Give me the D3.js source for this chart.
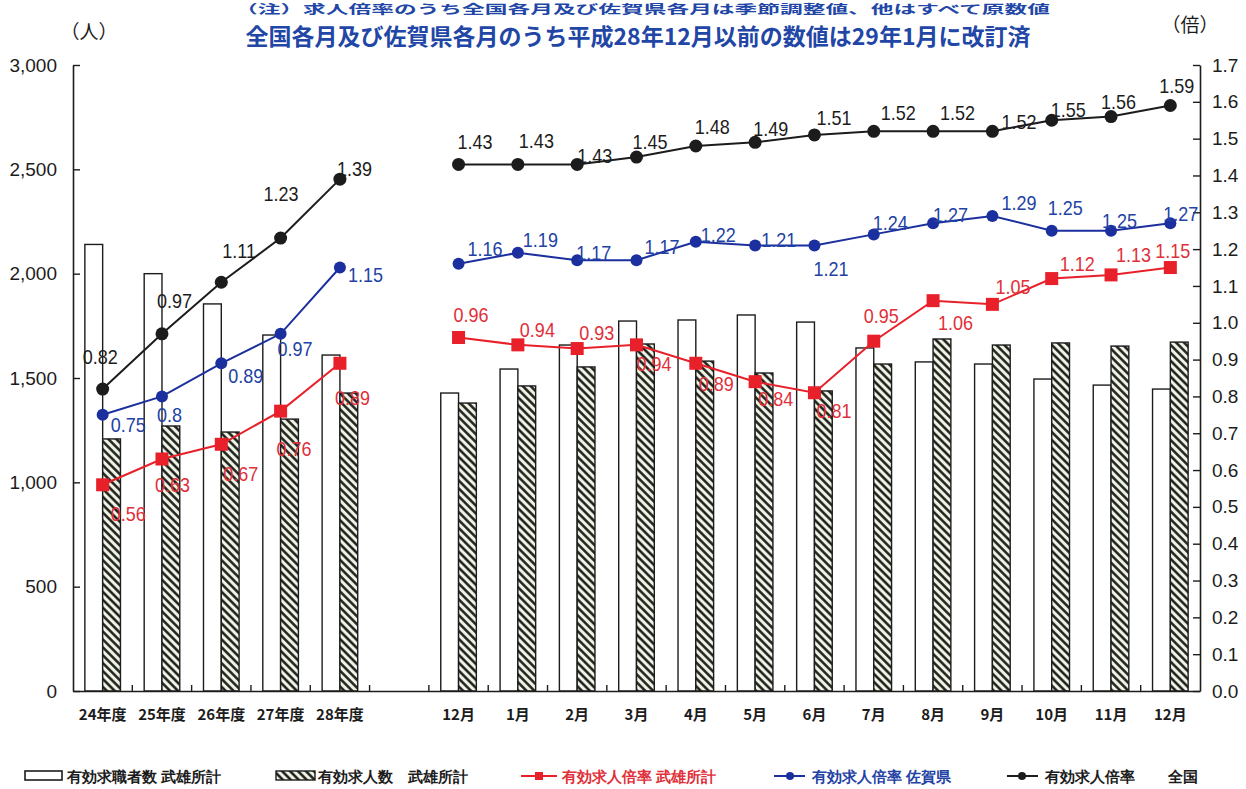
<!DOCTYPE html>
<html lang="ja">
<head>
<meta charset="utf-8">
<script src="https://cdn.jsdelivr.net/npm/d3@7"></script>
<style>
  html, body { margin: 0; padding: 0; background: #ffffff; }
  svg { display: block; }
  text { font-family: "Liberation Sans", Arial, sans-serif; }
  .jp { font-family: "Noto Sans CJK JP", "Noto Sans", sans-serif; }
</style>
</head>
<body>
<div id="chart"></div>
<script>
// ---- data ----
const yearLabels  = ["24年度", "25年度", "26年度", "27年度", "28年度"];
const monthLabels = ["12月", "1月", "2月", "3月", "4月", "5月", "6月", "7月", "8月", "9月", "10月", "11月", "12月"];

// 有効求職者数 武雄所計 (人)
const seekersYear  = [2140, 2000, 1855, 1706, 1610];
const seekersMonth = [1428, 1543, 1658, 1773, 1778, 1802, 1768, 1644, 1577, 1567, 1495, 1466, 1447];

// 有効求人数 武雄所計 (人)
const offersYear  = [1208, 1270, 1241, 1303, 1428];
const offersMonth = [1380, 1462, 1553, 1663, 1581, 1524, 1438, 1567, 1687, 1658, 1668, 1653, 1672];

// 有効求人倍率 (倍)
const takeoRatioYear  = [0.56, 0.63, 0.67, 0.76, 0.89];
const takeoRatioMonth = [0.96, 0.94, 0.93, 0.94, 0.89, 0.84, 0.81, 0.95, 1.06, 1.05, 1.12, 1.13, 1.15];
const sagaRatioYear   = [0.75, 0.8, 0.89, 0.97, 1.15];
const sagaRatioMonth  = [1.16, 1.19, 1.17, 1.17, 1.22, 1.21, 1.21, 1.24, 1.27, 1.29, 1.25, 1.25, 1.27];
const japanRatioYear  = [0.82, 0.97, 1.11, 1.23, 1.39];
const japanRatioMonth = [1.43, 1.43, 1.43, 1.45, 1.48, 1.49, 1.51, 1.52, 1.52, 1.52, 1.55, 1.56, 1.59];

const leftTicks  = [0, 500, 1000, 1500, 2000, 2500, 3000];
const rightTicks = d3.range(0, 18).map(i => i / 10);

// ---- layout ----
const W = 1246, H = 789;
const plot = { left: 73, right: 1200, top: 65, bottom: 691 };

// value-label nudges [dx, dy] from each marker (label baseline-left)
const japanNudgeYear  = [[-20,-25],[-5,-26],[1,-24],[-17,-37],[-3,-3]];
const japanNudgeMonth = [[-1,-15],[1,-16],[0,-1],[-4,-8],[-1,-12],[-2,-6],[2,-10],[7,-11],[7,-11],[9,-2],[-1,-3],[-10,-8],[-11,-13]];
const sagaNudgeYear   = [[8,17],[-5,26],[7,20],[-3,22],[8,14]];
const sagaNudgeMonth  = [[9,-8],[5,-6],[-1,0],[8,-6],[5,0],[6,2],[-1,31],[-1,-4],[0,-1],[9,-6],[-4,-16],[-9,-3],[-7,-2]];
const takeoNudgeYear  = [[8,36],[-7,33],[2,37],[-4,45],[-5,42]];
const takeoNudgeMonth = [[-5,-15],[2,-8],[2,-9],[0,26],[3,28],[3,24],[2,25],[-10,-18],[5,29],[3,-10],[8,-8],[5,-13],[-15,-10]];

const RED = "#e8202a", BLUE = "#1b2f9e", BLACK = "#1c1c1c";
const RED_TXT = "#e0303a", BLUE_TXT = "#2242a4";

// category keys: years, one empty spacer slot, months
const yearKeys  = yearLabels.map((_, i) => "y" + i);
const monthKeys = monthLabels.map((_, i) => "m" + i);
const keys = [...yearKeys, "gap", ...monthKeys];
const labelOf = new Map([...yearKeys.map((k, i) => [k, yearLabels[i]]), ["gap", ""], ...monthKeys.map((k, i) => [k, monthLabels[i]])]);

const x = d3.scaleBand().domain(keys).range([plot.left, plot.right]).paddingInner(0).paddingOuter(0);
const bw = x.bandwidth();
const yL = d3.scaleLinear().domain([0, 3000]).range([plot.bottom, plot.top]);
const yR = d3.scaleLinear().domain([0, 1.7]).range([plot.bottom, plot.top]);
const cx = k => x(k) + bw / 2;

const svg = d3.select("#chart").append("svg").attr("width", W).attr("height", H);

// hatch pattern for 有効求人数
const defs = svg.append("defs");
const pat = defs.append("pattern")
  .attr("id", "hatch").attr("patternUnits", "userSpaceOnUse")
  .attr("width", 5.6).attr("height", 5.6)
  .attr("patternTransform", "rotate(-45)");
pat.append("rect").attr("width", 5.6).attr("height", 5.6).attr("fill", "#eef4e3");
pat.append("line").attr("x1", 1.4).attr("y1", 0).attr("x2", 1.4).attr("y2", 5.6)
  .attr("stroke", "#151515").attr("stroke-width", 2.4);

// ---- header ----
svg.append("text").attr("class", "jp").attr("x", 235).attr("y", 14)
  .attr("font-size", 12).attr("font-weight", 700)
  .attr("textLength", 815).attr("lengthAdjust", "spacingAndGlyphs")
  .attr("fill", "#2146a6")
  .text("（注）求人倍率のうち全国各月及び佐賀県各月は季節調整値、他はすべて原数値");
svg.append("text").attr("class", "jp").attr("x", 638).attr("y", 45)
  .attr("text-anchor", "middle").attr("font-size", 23).attr("font-weight", 700)
  .attr("fill", "#2146a6")
  .text("全国各月及び佐賀県各月のうち平成28年12月以前の数値は29年1月に改訂済");
svg.append("text").attr("class", "jp").attr("x", 89).attr("y", 39)
  .attr("text-anchor", "middle").attr("font-size", 19).attr("fill", BLACK).text("（人）");
svg.append("text").attr("class", "jp").attr("x", 1190).attr("y", 32)
  .attr("text-anchor", "middle").attr("font-size", 19).attr("fill", BLACK).text("（倍）");

// ---- bars ----
const barRows = [
  ...yearKeys.map((k, i) => ({ k, seek: seekersYear[i], offer: offersYear[i] })),
  ...monthKeys.map((k, i) => ({ k, seek: seekersMonth[i], offer: offersMonth[i] }))
];
const bars = svg.append("g");
bars.selectAll("rect.seek").data(barRows).join("rect").attr("class", "seek")
  .attr("x", d => x(d.k) + bw * 0.2).attr("width", bw * 0.3)
  .attr("y", d => yL(d.seek)).attr("height", d => yL(0) - yL(d.seek))
  .attr("fill", "#ffffff").attr("stroke", BLACK).attr("stroke-width", 1.4);
bars.selectAll("rect.offer").data(barRows).join("rect").attr("class", "offer")
  .attr("x", d => x(d.k) + bw * 0.5).attr("width", bw * 0.3)
  .attr("y", d => yL(d.offer)).attr("height", d => yL(0) - yL(d.offer))
  .attr("fill", "url(#hatch)").attr("stroke", BLACK).attr("stroke-width", 1.4);

// ---- axes ----
const axL = svg.append("g").attr("transform", `translate(${plot.left},0)`)
  .call(d3.axisLeft(yL).tickValues(leftTicks).tickFormat(d3.format(",")).tickSize(-7).tickSizeOuter(0).tickPadding(16));
const axR = svg.append("g").attr("transform", `translate(${plot.right},0)`)
  .call(d3.axisRight(yR).tickValues(rightTicks).tickFormat(d3.format(".1f")).tickSize(-7).tickSizeOuter(0).tickPadding(12));
const axB = svg.append("g").attr("transform", `translate(0,${plot.bottom})`)
  .call(d3.axisBottom(x).tickFormat(k => labelOf.get(k)).tickSize(0).tickSizeOuter(0).tickPadding(18));
[axL, axR, axB].forEach(g => {
  g.select(".domain").attr("stroke", BLACK).attr("stroke-width", 1.6);
  g.selectAll(".tick line").attr("stroke", BLACK).attr("stroke-width", 1.4);
});
[axL, axR].forEach(g => g.selectAll(".tick text")
  .attr("font-family", "'Liberation Sans', Arial, sans-serif").attr("font-size", 19).attr("fill", BLACK));
axB.selectAll(".tick text").attr("class", "jp").attr("font-size", 15).attr("font-weight", 700)
  .attr("fill", BLACK);
// category boundary ticks on the x axis
const bounds = keys.map(k => x(k)).concat([plot.right]).slice(1, -1);
svg.append("g").selectAll("line").data(bounds).join("line")
  .attr("x1", d => d).attr("x2", d => d)
  .attr("y1", plot.bottom).attr("y2", plot.bottom - 6)
  .attr("stroke", BLACK).attr("stroke-width", 1.4);

// ---- ratio lines ----
const lineGen = d3.line().x(d => cx(d.k)).y(d => yR(d.v));
const series = [
  { yv: takeoRatioYear, mv: takeoRatioMonth, ny: takeoNudgeYear, nm: takeoNudgeMonth, color: RED, txt: RED_TXT, marker: "square" },
  { yv: sagaRatioYear,  mv: sagaRatioMonth,  ny: sagaNudgeYear,  nm: sagaNudgeMonth,  color: BLUE, txt: BLUE_TXT, marker: "circle", r: 6 },
  { yv: japanRatioYear, mv: japanRatioMonth, ny: japanNudgeYear, nm: japanNudgeMonth, color: BLACK, txt: BLACK, marker: "circle", r: 6.5 }
];

series.forEach(s => {
  const segY = yearKeys.map((k, i) => ({ k, v: s.yv[i], n: s.ny[i] }));
  const segM = monthKeys.map((k, i) => ({ k, v: s.mv[i], n: s.nm[i] }));
  const g = svg.append("g");
  [segY, segM].forEach(seg => {
    g.append("path").datum(seg).attr("d", lineGen)
      .attr("fill", "none").attr("stroke", s.color).attr("stroke-width", 2);
  });
  const pts = segY.concat(segM);
  if (s.marker === "square") {
    g.selectAll("rect").data(pts).join("rect")
      .attr("x", d => cx(d.k) - 6.5).attr("y", d => yR(d.v) - 6.5)
      .attr("width", 13).attr("height", 13).attr("fill", s.color);
  } else {
    g.selectAll("circle").data(pts).join("circle")
      .attr("cx", d => cx(d.k)).attr("cy", d => yR(d.v)).attr("r", s.r).attr("fill", s.color);
  }
  s.pts = pts;
});

// value labels on top of everything
series.forEach(s => {
  svg.append("g").selectAll("text").data(s.pts).join("text")
    .attr("transform", d => `translate(${cx(d.k) + d.n[0]},${yR(d.v) + d.n[1]}) scale(0.9,1)`)
    .attr("font-size", 20).attr("fill", s.txt)
    .text(d => String(d.v));
});

// ---- legend ----
const lg = svg.append("g").attr("class", "jp").attr("font-size", 15).attr("font-weight", 700);
const ly = 776;
lg.append("rect").attr("x", 25).attr("y", ly - 5).attr("width", 37).attr("height", 9)
  .attr("fill", "#fff").attr("stroke", BLACK).attr("stroke-width", 1.6);
lg.append("text").attr("x", 67).attr("y", ly + 6).attr("fill", BLACK).text("有効求職者数 武雄所計");
lg.append("rect").attr("x", 276).attr("y", ly - 5).attr("width", 39).attr("height", 9)
  .attr("fill", "url(#hatch)").attr("stroke", BLACK).attr("stroke-width", 1.4);
lg.append("text").attr("x", 318).attr("y", ly + 6).attr("fill", BLACK).text("有効求人数　武雄所計");
lg.append("line").attr("x1", 521).attr("x2", 557).attr("y1", ly).attr("y2", ly).attr("stroke", RED).attr("stroke-width", 2);
lg.append("rect").attr("x", 535).attr("y", ly - 4).attr("width", 8).attr("height", 8).attr("fill", RED);
lg.append("text").attr("x", 562).attr("y", ly + 6).attr("fill", RED_TXT).text("有効求人倍率 武雄所計");
lg.append("line").attr("x1", 774).attr("x2", 805).attr("y1", ly).attr("y2", ly).attr("stroke", BLUE).attr("stroke-width", 2);
lg.append("circle").attr("cx", 790).attr("cy", ly).attr("r", 4).attr("fill", BLUE);
lg.append("text").attr("x", 812).attr("y", ly + 6).attr("fill", BLUE_TXT).text("有効求人倍率 佐賀県");
lg.append("line").attr("x1", 1007).attr("x2", 1038).attr("y1", ly).attr("y2", ly).attr("stroke", BLACK).attr("stroke-width", 2);
lg.append("circle").attr("cx", 1022).attr("cy", ly).attr("r", 4).attr("fill", BLACK);
lg.append("text").attr("x", 1045).attr("y", ly + 6).attr("fill", BLACK).text("有効求人倍率");
lg.append("text").attr("x", 1168).attr("y", ly + 6).attr("fill", BLACK).text("全国");
</script>
</body>
</html>
